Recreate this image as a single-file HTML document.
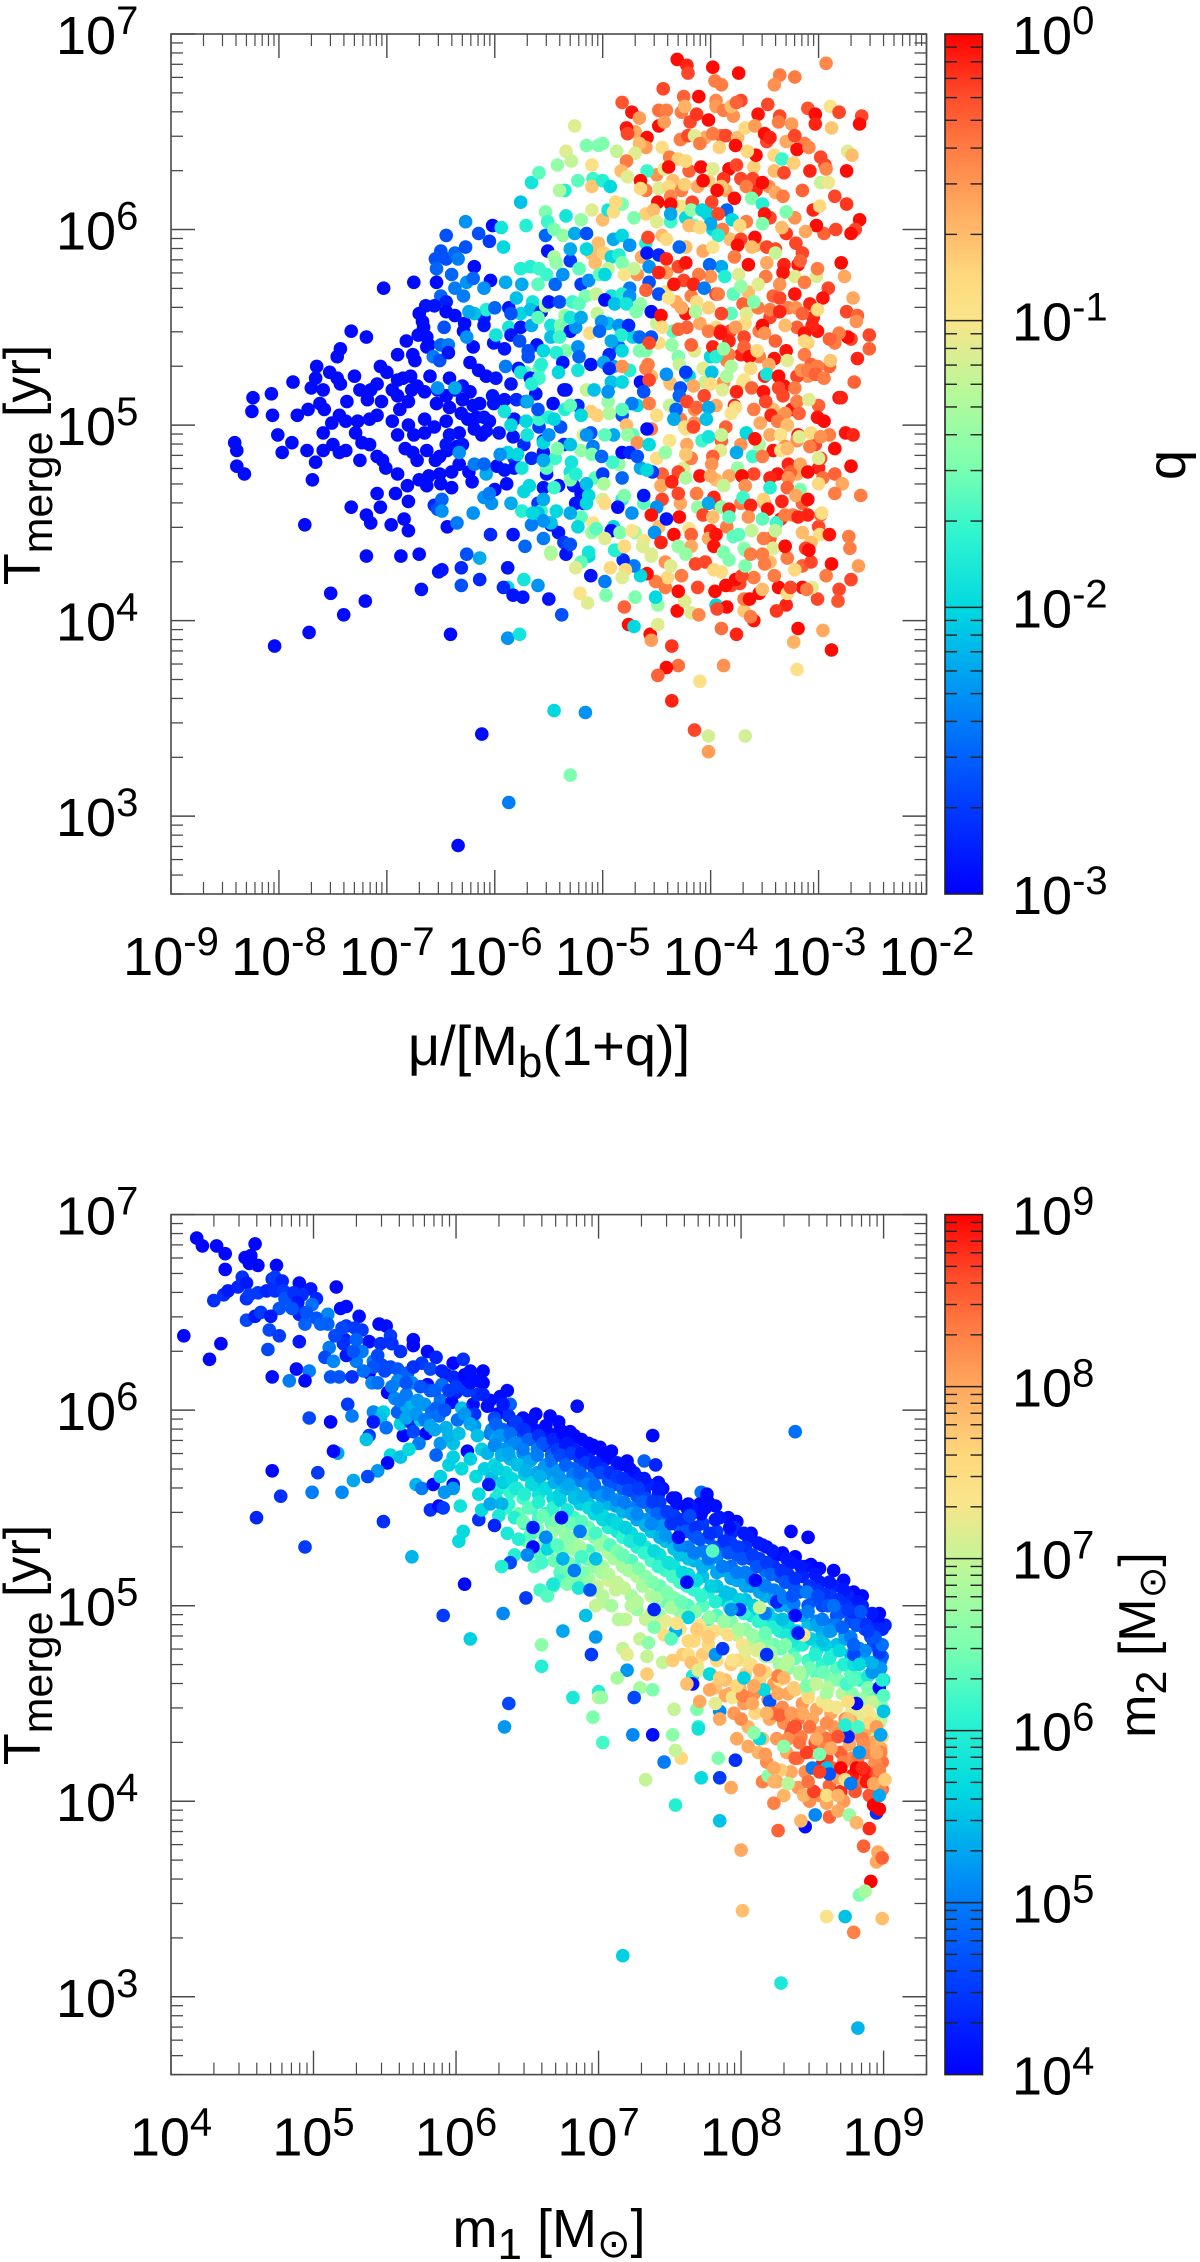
<!DOCTYPE html>
<html lang="en">
<head>
<meta charset="utf-8">
<title>Merger time scatter plots</title>
<style>
html,body{margin:0;padding:0;background:#fff;}
body{width:1200px;height:2262px;overflow:hidden;}
svg{display:block;font-family:"Liberation Sans",Arial,sans-serif;fill:#000;}
</style>
</head>
<body>
<svg id="figure" xmlns="http://www.w3.org/2000/svg" width="1200" height="2262" viewBox="0 0 1200 2262">
  <g id="top-panel"></g>
  <g id="bottom-panel"></g>
  <text x="549" y="1065" font-size="56" text-anchor="middle">μ/[M<tspan dy="12" font-size="44">b</tspan><tspan dy="-12">(1+q)]</tspan></text>
  <text transform="translate(40,465) rotate(-90)" font-size="52" text-anchor="middle">T<tspan dy="12" font-size="43">merge</tspan><tspan dy="-12"> [yr]</tspan></text>
  <text transform="translate(1185,465) rotate(-90)" font-size="54" text-anchor="middle">q</text>
  <text x="549" y="2247" font-size="54" text-anchor="middle">m<tspan dy="12" font-size="44">1</tspan><tspan dy="-12"> [M</tspan><tspan dy="10" font-size="40" font-family="'DejaVu Sans',sans-serif">⊙</tspan><tspan dy="-10">]</tspan></text>
  <text transform="translate(40,1645) rotate(-90)" font-size="52" text-anchor="middle">T<tspan dy="12" font-size="43">merge</tspan><tspan dy="-12"> [yr]</tspan></text>
  <text transform="translate(1155,1645) rotate(-90)" font-size="52" text-anchor="middle">m<tspan dy="11" font-size="43">2</tspan><tspan dy="-11"> [M</tspan><tspan dy="10" font-size="38" font-family="'DejaVu Sans',sans-serif">⊙</tspan><tspan dy="-10">]</tspan></text>
</svg>
<script>
/* ---------- tick labels (log10 exponents) ---------- */
const topXTickExponents = [-9,-8,-7,-6,-5,-4,-3,-2];
const topYTickExponents = [3,4,5,6,7];
const topColorTickExponents = [-3,-2,-1,0];
const bottomXTickExponents = [4,5,6,7,8,9];
const bottomYTickExponents = [3,4,5,6,7];
const bottomColorTickExponents = [4,5,6,7,8,9];

/* ---------- upper panel: log10(mu/[Mb(1+q)]), log10(Tmerge), log10(q) ---------- */
const topLogMu1 = [-8.41,-8.39,-8.39,-8.32,-8.24,-8.25,-8.07,-8.06,-8.01,-7.97,-7.88,-7.74,-7.66,-7.69,-7.76,-7.87,-7.7,-7.65,-7.66,-7.59,-7.62,-7.58,-7.83,-7.73,-7.51,-7.59,-7.59,-7.5,-7.44,-7.38,-7.46,-7.43,-7.53,-7.46,-7.43,-7.33,-7.19,-7.3,-7.37,-7.44,-7.38,-7.27,-7.25,-7.18,-7.16,-7.09,-7.29,-7.23,-7.16,-7.25,-7.09,-7.04,-7.01,-7.09,-6.92,-6.8,-7.33,-7.06,-7.19,-7.15,-6.96,-6.84,-6.8,-6.9,-6.81];
const topLogT1 = [4.91,4.87,4.79,4.75,5.14,5.07,5.16,5.05,4.95,4.86,4.91,4.87,4.81,4.72,4.49,5.22,5.19,5.3,5.24,5.18,5.11,5.08,5.05,5.08,5.01,4.96,4.87,4.9,4.86,4.87,5.35,5.39,5.27,5.24,5.21,5.48,5.45,5.25,5.12,5.05,5.02,5.02,5.18,5.13,5.03,5.05,4.96,4.91,4.9,4.82,4.84,4.82,4.78,4.65,4.65,4.61,4.58,4.58,4.54,4.5,4.49,4.52,4.46,4.75,4.69];
const topLogQ1 = [-2.95,-2.95,-2.95,-2.95,-2.95,-2.95,-2.95,-2.95,-2.95,-2.95,-2.95,-2.95,-2.95,-2.95,-2.95,-2.95,-2.95,-2.95,-2.95,-2.95,-2.95,-2.95,-2.95,-2.95,-2.95,-2.95,-2.95,-2.95,-2.95,-2.95,-2.95,-2.95,-2.95,-2.95,-2.95,-2.95,-2.95,-2.95,-2.95,-2.95,-2.95,-2.95,-2.95,-2.95,-2.95,-2.95,-2.95,-2.95,-2.95,-2.95,-2.95,-2.95,-2.95,-2.95,-2.95,-2.95,-2.95,-2.95,-2.95,-2.95,-2.95,-2.95,-2.95,-2.95,-2.95];

const topLogMu2 = [-7.03,-6.75,-6.54,-6.04,-6.19,-6.4,-6.45,-6.27,-6.15,-6.05,-6.02,-5.94,-5.92,-6.5,-6.55,-6.45,-6.37,-6.27,-6.34,-6.54,-6.37,-6.26,-6.2,-6.29,-6.5,-6.45,-6.56,-6.64,-6.7,-6.67,-6.66,-6.45,-6.37,-6.28,-6.29,-6.47,-6.71,-6.82,-6.63,-6.61,-6.63,-6.9,-6.76,-6.74,-6.2,-6.5,-6.43,-6.57,-6.51,-6.43,-6.23,-6.26,-7.06,-7,-7.09,-6.9,-6.78,-6.77,-6.9];
const topLogT2 = [5.7,5.73,5.73,5.74,5.81,5.77,5.97,6.04,5.98,5.94,6.02,6.01,5.91,5.89,5.85,5.85,5.88,5.91,5.85,5.8,5.7,5.73,5.75,5.66,5.66,5.63,5.61,5.61,5.57,5.53,5.5,5.58,5.56,5.52,5.48,5.5,5.46,5.43,5.45,5.41,5.4,5.36,5.36,5.33,5.4,5.41,5.41,5.35,5.33,5.37,5.32,5.45,5.3,5.27,5.21,5.23,5.25,5.18,5.15];
const topLogQ2 = [-2.95,-2.95,-2.95,-2.95,-2.95,-2.5,-2.6,-2.3,-2.6,-2.7,-2.95,-1.9,-2,-2.6,-2.6,-2.6,-2.5,-2.6,-2.4,-2.5,-2.4,-2.3,-2.5,-2.4,-2.5,-2.85,-2.9,-2.9,-2.95,-2.95,-2.95,-2.95,-2.95,-2.95,-2.95,-2.6,-2.95,-2.95,-2.95,-2.95,-2.95,-2.95,-2.95,-2.95,-2.95,-2.5,-2.4,-2.4,-2.6,-2.9,-2.95,-2.3,-2.95,-2.95,-2.95,-2.95,-2.95,-2.95,-2.95];

const topLogMu3 = [-6.65,-6.53,-6.42,-6.37,-6.23,-6.54,-6.42,-6.3,-6.15,-6.08,-5.99,-6.14,-6.01,-5.91,-5.85,-5.8,-5.71,-5.62,-5.46,-5.36,-5.23,-6.65,-6.56,-6.45,-6.31,-6.17,-6.05,-5.96,-5.82,-5.59,-5.39,-6.33,-6.19,-6.08,-5.83,-5.73,-5.55,-5.36,-6.35,-6.44,-6.51,-6.63,-6.72,-6.83,-6.76,-5.98,-5.91,-5.82,-5.66,-5.55,-6.61,-6.51,-6.4,-6.33,-6.24,-5.82,-6.21,-6.4,-6.63,-6,-5.89,-5.55,-5.6,-5.52,-5.27,-5.2,-5.18,-5.25,-5.41,-5.48,-5.41,-5.83,-6.04,-6.44,-6.56,-6.53];
const topLogT3 = [5.17,5.18,5.24,5.18,5.17,5.11,5.09,5.13,5.28,5.25,5.24,5.11,5.11,5.13,5.21,5.13,5.12,5.16,5.11,5.18,5.1,4.96,4.99,5.02,5.06,5.04,5.02,4.96,5.03,4.99,4.99,4.96,4.98,4.97,4.94,4.9,4.92,4.9,4.89,4.87,4.84,4.87,4.82,4.88,4.86,4.79,4.77,4.83,4.83,4.86,4.74,4.75,4.76,4.8,4.76,4.78,4.71,4.68,4.69,4.67,4.7,4.68,4.6,4.75,4.69,4.65,4.6,4.6,4.69,4.49,4.45,4.44,4.44,4.48,4.59,4.57];
const topLogQ3 = [-2.95,-2.95,-2.95,-2.95,-2.95,-2.95,-2.95,-2.95,-2.95,-2.95,-2.9,-2.95,-2.9,-2.9,-2.9,-2.8,-2.7,-2.9,-2.95,-2.95,-2.8,-2.95,-2.95,-2.95,-2.95,-2.95,-2.95,-2.9,-2.9,-2.7,-2.6,-2.95,-2.95,-2.9,-2.9,-2.8,-2.7,-2.8,-2.95,-2.95,-2.95,-2.95,-2.95,-2.95,-2.95,-2.95,-2.9,-2.7,-2.8,-2.9,-2.95,-2.95,-2.95,-2.95,-2.95,-2.9,-2.95,-2.95,-2.95,-2.95,-2.95,-2.9,-2.7,-2.9,-2.9,-2.95,-2.95,-2.9,-2.95,-2.95,-2.9,-2.9,-2.8,-2.95,-2.8,-2.6];

const topLogMu3b = [-7.05,-6.95,-6.88,-6.8,-6.72,-6.9,-6.8,-6.65,-6.95,-6.75,-6.55,-6.45,-6.7,-6.5,-7.15,-6.85,-6.6,-6.45,-6.3,-6.2,-6.1,-6.02,-6.42,-6.25,-6.3,-6.12];
const topLogT3b = [5.12,5.18,5.08,5.12,5.2,4.95,5,5.03,5.02,4.95,4.82,4.9,4.72,4.7,5.18,5.24,5.25,5.15,5.2,5.1,5.04,5.15,4.95,5.03,4.9,4.95];
const topLogQ3b = [-2.95,-2.95,-2.95,-2.95,-2.95,-2.95,-2.95,-2.95,-2.95,-2.95,-2.95,-2.9,-2.95,-2.95,-2.95,-2.95,-2.95,-2.95,-2.9,-2.95,-2.9,-2.9,-2.9,-2.95,-2.9,-2.95];

const topLogMu4 = [-6.53,-6.37,-5.91,-5.59,-5.5,-5.71,-5.55,-5.45,-5.88,-5.79,-6.33,-6.19,-6.08,-6.1,-6.03,-6.49,-6.49,-5.73,-5.75,-5.57,-5.6,-5.55,-5.48,-5.43,-5.2,-5.55,-5.66,-5.68,-5.29,-5.44,-5.52,-5.3,-5.2,-5.18,-5.11,-5.34,-5.15,-5.08,-5.11,-5.05,-5.09,-5.07,-5.13,-5.09,-5.1,-5.06,-5.23,-5.36,-5.3,-5.48,-5.13];
const topLogT4 = [5.19,5.19,5.07,5.03,5.04,5.02,4.91,5.03,4.86,4.85,4.86,4.8,4.75,4.63,4.6,4.62,4.56,4.66,4.56,4.56,4.55,4.62,4.5,4.56,4.53,4.51,4.49,4.69,4.81,4.83,4.78,4.76,4.87,4.95,4.96,5.18,5.18,5.18,5.07,5.05,4.89,4.73,4.64,4.5,4.45,4.47,4.48,4.4,4.39,4.34,4.33];
const topLogQ4 = [-2.3,-2.2,-1.9,-1.7,-1.8,-2,-2,-2,-2,-2,-2.3,-2.4,-2.2,-2.3,-2.3,-2.5,-2.3,-2,-1.8,-1.7,-2.1,-2.2,-2.1,-2,-1.6,-2.3,-2.4,-2,-1.9,-1.7,-1.6,-1.9,-1.4,-1.1,-2.6,-2.9,-1.2,-2.1,-0.8,-0.8,-2.4,-1.6,-2,-1,-1.4,-1.6,-2,-2.7,-1.2,-1.2,-2];

const topLogMu5 = [-5.76,-5.67,-5.59,-5.52,-5.6,-5.75,-5.44,-5.37,-5.3,-5.22,-5.51,-5.45,-5.43,-5.53,-5.37,-5.26,-5.34,-5.53,-5.51,-5.71,-5.76,-5.66,-5.59,-5.42,-5.34,-5.29,-5.26,-5.23,-5.35,-5.15,-5.04,-5.1,-5.09,-5.1,-5.04,-5.11,-5.07,-5.87,-5.8,-5.65,-5.76,-5.67,-5.57,-5.53,-5.5,-5.4,-5.28,-5.2,-5.13,-5.16,-5.22,-5.06,-5.05,-5.35,-5.48,-5.39,-5.48,-5.3,-5.25,-5.85,-5.87,-5.76,-5.85,-5.77,-5.66,-5.61,-5.69,-6.01,-5.91,-5.99,-6.1,-6.08,-6.1,-6.19,-6.24,-5.34,-5.43,-5.23,-5.22,-5.37,-5.59,-5.57,-5.69,-5.72,-5.78,-5.76,-5.23,-5.41,-5.11,-5.67,-5.59,-5.66];
const topLogT5 = [5.8,5.81,5.8,5.77,5.72,5.72,5.72,5.77,5.84,5.8,5.89,5.86,5.83,5.97,5.97,5.98,6.07,6.09,6.04,6.02,6.14,6.24,6.29,6.33,6.4,6.35,6.53,6.25,6.2,6.43,6.43,6.33,6.26,6.22,5.93,5.88,5.83,5.6,5.65,5.63,5.57,5.59,5.58,5.61,5.63,5.63,5.63,5.72,5.74,5.66,5.62,5.67,5.57,5.56,5.51,5.51,5.45,5.48,5.5,5.57,5.5,5.5,5.46,5.43,5.51,5.41,5.38,5.42,5.39,5.46,5.55,5.59,5.51,5.57,5.58,5.38,5.37,5.4,5.35,5.32,5.29,5.31,5.35,5.27,5.29,5.27,5.28,5.27,5.31,5.24,5.24,5.21];
const topLogQ5 = [-1.8,-1.8,-1.7,-1.7,-1.6,-2.2,-2.5,-2.3,-2.7,-1.6,-2.9,-1.3,-1.4,-2.5,-1.4,-2.2,-1.9,-1.5,-1.7,-1.8,-2.1,-1.9,-1.6,-1.4,-1.1,-1.2,-1.1,-1.6,-1.8,-1.5,-1.5,-0.95,-1.7,-0.75,-0.7,-0.7,-0.7,-2.9,-2.1,-1.9,-2,-2.1,-2.9,-1.3,-2.9,-2.6,-1.7,-2.7,-2.3,-1.5,-1.6,-1.2,-1.2,-1.4,-1.9,-1.5,-2.1,-2.9,-2.3,-2.6,-1.9,-2.9,-2.9,-2.6,-2.2,-2.9,-2.6,-2.9,-2.9,-1.9,-2.9,-1.8,-2.9,-2.1,-2.2,-1.5,-1.8,-2.3,-2.5,-2.9,-1.6,-1.8,-2.6,-1.6,-2.9,-1.9,-1.9,-2,-2.9,-2.9,-1.7,-1.8];

const topLogMu5b = [-5.9,-5.7,-5.85,-5.6,-5.7,-5.5,-5.35,-5.42,-5.3,-5.55,-5.75,-5.95,-6.1,-5.85,-5.65,-5.45,-5.3,-5.3,-5.55,-5.72,-5.15,-6.35,-6.2,-6.05,-5.4,-5.55,-5.3,-5.6,-5.9,-6,-6.1,-5.45,-5.2,-5.1,-5.3,-5.15,-5,-5.4,-5];
const topLogT5b = [5.3,5.12,5,5.08,4.95,4.95,5.08,4.88,4.9,4.82,4.78,4.85,4.8,4.6,4.55,4.68,4.72,4.55,4.42,4.38,4.7,4.5,4.55,4.65,5.45,5.38,5.55,5.55,5.73,5.6,5.7,6,6.05,6.1,5.9,5.98,6.05,6.2,6.25];
const topLogQ5b = [-2.4,-2.2,-2,-2.6,-1.9,-2.3,-1.8,-1.5,-2.1,-2.2,-1.9,-2.3,-2.5,-2.2,-2,-1.7,-1.5,-2.2,-2.4,-2.5,-2.1,-2.4,-2.3,-2.4,-1.7,-2,-1.9,-1.6,-2.2,-2.5,-2.3,-1.5,-1.4,-1.1,-2.2,-2.6,-0.7,-1.3,-1.8];

const topLogMu6 = [-4.31,-4.22,-4.21,-3.98,-3.74,-3.96,-3.9,-4.44,-4.25,-4.11,-3.95,-3.36,-3.22,-3.41,-2.93,-4.82,-4.73,-4.66,-4.78,-4.77,-4.48,-4.48,-4.41,-4.43,-4.59,-4.6,-4.27,-4.24,-4.19,-4.13,-4.02,-3.95,-3.88,-3.79,-3.81,-3.72,-3.76,-3.56,-3.47,-3.36,-3.37,-3.25,-3.1,-3.03,-3.03,-2.89,-2.81,-2.88,-2.6,-2.62,-4.21,-4.15,-3.98,-3.86,-3.75,-3.68,-3.59,-3.5,-3.45,-3.22,-4.1,-3.92,-3.77,-4.66,-4.7,-5];
const topLogT6 = [6.87,6.84,6.8,6.83,6.8,6.76,6.74,6.72,6.68,6.68,6.66,6.79,6.78,6.74,6.85,6.65,6.6,6.57,6.52,6.49,6.53,6.61,6.61,6.55,6.47,6.42,6.6,6.63,6.55,6.59,6.56,6.63,6.61,6.58,6.63,6.66,6.65,6.59,6.64,6.58,6.55,6.54,6.62,6.59,6.54,6.63,6.6,6.52,6.58,6.54,6.48,6.48,6.49,6.48,6.47,6.52,6.53,6.49,6.47,6.48,6.44,6.42,6.43,6.44,6.39,6.44];
const topLogQ6 = [-0.03,-0.1,-0.2,-0.03,-0.03,-0.4,-0.4,-0.2,-0.3,-0.03,-0.45,-0.4,-0.4,-0.5,-0.45,-0.25,-0.05,-0.55,-0.05,-0.2,-0.03,-0.35,-0.4,-0.55,-0.03,-0.55,-0.4,-0.65,-0.2,-0.15,-0.03,-0.55,-0.4,-0.5,-0.7,-0.2,-0.3,-0.05,-0.2,-0.2,-0.4,-0.55,-0.25,-0.03,-0.1,-1,-0.2,-0.75,-0.2,-0.03,-0.2,-1.1,-0.4,-0.2,-0.7,-0.85,-0.55,-0.03,-0.1,-0.2,-0.4,-0.8,-0.03,-0.7,-1.1,-1.5];

const topLogMu7 = [-3.2,-3.09,-3.58,-3.66,-3.41,-3.34,-3.23,-2.98,-2.94,-2.93,-2.73,-2.69,-2.74,-4.78,-4.59,-4.83,-4.77,-4.65,-4.43,-4.38,-4.3,-4.23,-4.39,-4.09,-3.98,-3.83,-3.76,-4.07,-3.88,-3.61,-3.52,-3.41,-3.32,-3.67,-3.9,-3.94,-3.78,-3.62,-3.4,-3.33,-2.98,-2.91,-2.85,-2.74,-2.99,-3.3,-3.52,-3.5,-2.62,-2.66,-2.7,-3.02,-2.84,-3.12,-3.34,-3.21,-3.52,-4.93,-4.65,-4.48,-4.39,-4.27,-4.24,-4.37,-4.49,-4.37,-4.17,-3.99,-4.53,-4.71,-4.9,-4.82,-4.88];
const topLogT7 = [6.41,6.42,6.38,6.4,6.38,6.36,6.34,6.37,6.33,6.31,6.4,6.38,6.3,6.35,6.3,6.3,6.27,6.25,6.31,6.37,6.36,6.35,6.32,6.32,6.31,6.31,6.33,6.25,6.26,6.26,6.24,6.3,6.29,6.22,6.22,6.2,6.16,6.16,6.19,6.17,6.24,6.24,6.17,6.13,6.12,6.09,6.13,6.08,6.05,6,5.98,6.02,6,5.99,6.01,5.93,6.03,6.22,6.21,6.21,6.22,6.2,6.23,6.17,6.14,6.13,6.14,6.14,6.1,6.06,6.09,6.13,6.14];
const topLogQ7 = [-0.03,-0.45,-0.03,-0.85,-0.85,-1.7,-0.8,-0.2,-0.2,-0.45,-1.1,-0.7,-0.03,-0.4,-1.7,-0.7,-1.1,-0.03,-1.1,-0.4,-0.8,-0.85,-0.03,-0.03,-1.1,-0.03,-0.2,-0.03,-0.15,-0.2,-0.03,-0.7,-0.2,-0.4,-0.75,-0.03,-0.03,-1.5,-0.6,-0.4,-1.2,-1.05,-0.2,-0.15,-0.85,-1.5,-1.8,-0.05,-0.03,-0.2,-0.03,-0.03,-0.2,-0.6,-0.7,-0.2,-1.5,-2,-0.85,-1.1,-0.85,-0.4,-0.8,-0.45,-0.03,-0.03,-0.2,-0.2,-0.7,-1.5,-0.9,-1.5,-0.85];

const topLogMu8 = [-4.5,-4.37,-4.37,-4.23,-4.18,-4.08,-4.03,-3.85,-3.93,-4,-3.8,-4.2,-4.1,-3.89,-3.73,-4.41,-4.58,-4.82,-4.75,-3.93,-3.72,-3.59,-3.75,-3.62,-3.48,-3.4,-4.99,-4.92,-4.85,-4.82,-4.64,-4.59,-4.48,-4.57,-4.41,-4.3,-4.23,-4.23,-4.29,-4.07,-3.98,-3.9,-4.01,-3.78,-3.65,-3.48,-3.4,-3.32,-3.19,-3.17,-2.79,-3.22,-3.02,-3.01,-2.76,-3.33,-3.49,-4,-3.87,-3.74,-4.11,-4.41,-4.48,-4.57,-4.25,-4.16,-4.68,-4.8,-4.95,-5.03,-4.98,-4.71];
const topLogT8 = [6.04,6.04,6.08,6.06,6.1,6.1,6.08,6.1,6.08,6.03,6.05,6.02,6.01,6,6.02,5.95,5.96,5.97,5.92,5.97,5.95,5.96,5.92,5.91,5.91,5.9,5.88,5.86,5.87,5.83,5.86,5.88,5.87,5.81,5.85,5.81,5.83,5.91,5.91,5.89,5.91,5.81,5.82,5.86,5.82,5.83,5.88,5.82,5.82,5.84,5.83,5.76,5.76,5.8,5.76,5.78,5.76,5.76,5.76,5.77,5.77,5.78,5.78,5.73,5.74,5.72,5.77,5.77,5.8,5.77,5.77,5.8];
const topLogQ8 = [-1.1,-1.7,-2.2,-2,-1.4,-2,-2,-2.5,-0.2,-2.2,-2,-0.7,-0.85,-0.4,-0.85,-0.85,-0.2,-2,-2.3,-1.8,-0.2,-0.03,-0.03,-0.7,-0.2,-0.2,-0.8,-2,-1.8,-1.5,-0.6,-2.9,-2.8,-2.3,-0.1,-0.2,-0.05,-0.7,-2.5,-0.6,-1,-2.2,-2.5,-0.4,-0.03,-0.6,-1.2,-0.1,-0.05,-0.3,-0.03,-1.1,-1.1,-0.4,-0.6,-0.05,-0.4,-0.5,-1.8,-1.1,-0.4,-0.55,-0.1,-2.6,-0.2,-0.1,-0.5,-1,-1.2,-1.6,-2,-1.2];

const topLogMu9 = [-4.82,-4.75,-4.6,-4.48,-4.34,-4.06,-3.93,-3.79,-3.72,-3.56,-3.36,-3.13,-2.91,-2.96,-2.68,-3.36,-3.81,-3.9,-4.98,-4.89,-4.78,-4.69,-4.55,-4.46,-4.23,-4.27,-4.13,-4.02,-4.14,-3.67,-3.56,-3.45,-3.28,-3.21,-3.36,-3.08,-3.15,-3.01,-2.74,-2.64,-3.6,-4.85,-4.76,-4.39,-5.01];
const topLogT9 = [5.67,5.66,5.69,5.67,5.72,5.7,5.67,5.67,5.71,5.72,5.72,5.73,5.7,5.65,5.65,5.65,5.57,5.57,5.64,5.62,5.62,5.58,5.58,5.56,5.57,5.6,5.63,5.6,5.58,5.57,5.6,5.59,5.6,5.6,5.58,5.62,5.57,5.59,5.58,5.56,5.63,5.51,5.51,5.65,5.53];
const topLogQ9 = [-1.8,-2.3,-0.3,-2.6,-0.05,-2.4,-0.4,-1.6,-1.4,-1.1,-0.5,-0.4,-0.2,-0.05,-0.6,-0.2,-1.6,-0.2,-2.95,-2.1,-1.9,-1.5,-2.95,-0.03,-0.05,-0.6,-0.9,-0.8,-1.3,-1.1,-0.4,-0.4,-0.4,-0.5,-0.1,-0.1,-0.3,-0.9,-0.2,-0.3,-1.5,-2.3,-2.8,-1,-2.3];

const topLogMu10 = [-3.52,-3.31,-3.68,-3.77,-3.91,-4.02,-4.3,-4.45,-4.55,-4.66,-4.83,-4.92,-5.03,-2.65,-2.53,-2.53,-2.73,-2.81,-2.9,-3.01,-3.06,-3.13,-3.13,-3.5,-3.4,-3.69,-3.83,-3.91,-3.98,-4.18,-4.36,-4.57,-4.66,-4.82,-4.94,-4.99,-3.69,-3.64,-3.83,-3.95,-3.88,-3.57,-3.13,-2.89,-2.64,-3.41,-3.29,-3.46,-3.63,-3.81,-3.07,-3.01,-4.07,-4.29,-4.58,-4.6,-4.82,-4.94,-4.23];
const topLogT10 = [5.51,5.51,5.52,5.5,5.48,5.48,5.49,5.5,5.45,5.45,5.46,5.43,5.48,5.53,5.46,5.39,5.45,5.47,5.44,5.48,5.51,5.47,5.43,5.47,5.43,5.45,5.43,5.47,5.4,5.41,5.41,5.42,5.38,5.38,5.36,5.32,5.4,5.35,5.36,5.35,5.39,5.38,5.36,5.33,5.34,5.34,5.33,5.31,5.29,5.3,5.31,5.3,5.29,5.31,5.31,5.29,5.3,5.29,5.27];
const topLogQ10 = [-0.03,-0.7,-0.9,-0.55,-0.1,-0.4,-0.3,-0.9,-2.6,-2.5,-1.8,-2.2,-2.5,-0.5,-0.2,-0.3,-0.03,-0.4,-0.3,-0.05,-0.1,-0.05,-0.85,-0.5,-0.3,-0.2,-0.1,-0.05,-0.1,-0.3,-1.4,-0.2,-1.5,-2,-2.8,-2.2,-0.3,-0.03,-0.4,-1.8,-1.4,-0.85,-0.4,-0.75,-0.1,-0.05,-1.1,-0.6,-0.85,-1.3,-0.3,-0.4,-1.1,-1.2,-0.4,-0.4,-0.5,-2.8,-2.7];

const topLogMu11 = [-3.99,-3.85,-3.69,-3.48,-3.37,-3.2,-3.16,-3.1,-3.03,-2.95,-2.67,-4.65,-4.92,-4.82,-4.57,-4.37,-4.16,-4,-3.89,-4.28,-4.41,-3.37,-3.22,-4.95,-4.62,-4.29,-4.06,-3.76,-3.62,-3.51,-3.33,-3.2,-3.09,-2.81,-2.79,-4.57,-4.73,-4.82,-4.94,-4.32,-4.22,-4.13,-4.02,-3.77,-3.81,-3.49,-3.44,-3.31,-3.18,-3.01,-2.95,-4.34,-4.15,-4.04,-3.86,-3.54,-3.38,-3.29,-3.19,-2.75,-2.68,-4.78,-4.59,-4.77,-4.68,-4.02,-4.23,-3.9,-3.67,-3.59,-3.45,-3.35,-3.18,-3.07,-2.98,-4.98,-4.24,-4.16];
const topLogT11 = [5.27,5.25,5.23,5.26,5.25,5.25,5.28,5.28,5.26,5.24,5.22,5.22,5.22,5.22,5.23,5.21,5.2,5.21,5.18,5.19,5.26,5.19,5.19,5.17,5.17,5.15,5.15,5.17,5.19,5.17,5.15,5.12,5.13,5.14,5.14,5.11,5.11,5.08,5.06,5.08,5.12,5.09,5.09,5.09,5.06,5.12,5.05,5.06,5.06,5.04,5.02,5.03,5.01,5.03,4.99,5.01,5.02,5,4.95,4.96,4.95,5,4.98,4.95,4.91,4.94,4.98,4.95,4.96,4.93,4.95,4.95,4.94,4.96,4.94,4.95,4.99,4.99];
const topLogQ11 = [-2.1,-1.3,-1,-1.9,-0.03,-0.2,-0.5,-0.4,-0.3,-0.4,-0.3,-2.95,-2.1,-2,-0.2,-0.7,-0.6,-0.9,-1.1,-2.6,-2.3,-0.2,-0.4,-2.3,-2.6,-2.5,-0.2,-0.1,-0.3,-0.05,-0.2,-0.4,-1.1,-0.05,-0.1,-0.4,-2.4,-1.6,-1.3,-2.5,-0.2,-0.3,-2.2,-0.9,-1,-0.2,-0.1,-0.5,-0.3,-0.05,-0.03,-2.2,-0.5,-2.1,-0.3,-0.6,-0.4,-0.7,-0.05,-0.05,-0.1,-0.7,-2.95,-1.4,-0.5,-1.9,-0.9,-1.2,-2,-0.05,-0.6,-1,-1.1,-0.9,-0.5,-1.6,-0.9,-0.2];

const topLogMu12 = [-4.82,-4.75,-4.68,-4.91,-5.01,-4.5,-4.42,-4.57,-3.91,-3.76,-3.61,-3.52,-4.18,-4.23,-3.98,-3.99,-3.31,-3.08,-2.98,-2.85,-3.35,-3.29,-3,-3.28,-2.7,-3.26,-3.17,-3.1,-2.96,-4.54,-4.59,-4.3,-4.23,-4.82,-4.99,-4.46,-4.36,-4,-3.83,-3.71,-3.68,-3.88,-3.45,-3.45,-3.28,-3.29,-3.17,-3,-2.78,-2.85,-2.61,-4.62,-4.8,-4.98,-4.3,-4.13,-3.97,-3.7,-3.51,-3.21,-3.34];
const topLogT12 = [4.86,4.86,4.84,4.81,4.84,4.83,4.86,4.9,4.87,4.86,4.84,4.84,4.83,4.85,4.84,4.8,4.89,4.89,4.83,4.88,4.87,4.88,4.83,4.8,4.79,4.76,4.8,4.76,4.73,4.76,4.77,4.76,4.73,4.73,4.7,4.69,4.71,4.74,4.74,4.74,4.69,4.69,4.73,4.68,4.73,4.68,4.67,4.7,4.7,4.65,4.64,4.64,4.64,4.6,4.65,4.65,4.63,4.63,4.62,4.64,4.61];
const topLogQ12 = [-2.95,-2.8,-2.6,-1.7,-2.5,-0.9,-1.4,-2,-1.1,-2.2,-1.7,-0.4,-0.4,-0.75,-0.3,-0.5,-0.5,-0.4,-0.2,-0.03,-1,-0.7,-1.1,-0.1,-0.03,-0.3,-0.6,-0.03,-0.35,-2.7,-2,-0.2,-1.3,-2.5,-1.3,-0.6,-0.1,-0.6,-0.6,-0.03,-0.5,-1.2,-0.1,-1.8,-0.5,-0.3,-1.5,-0.85,-0.6,-0.4,-0.4,-2.9,-1.5,-0.9,-0.2,-0.4,-0.1,-1.7,-0.8,-0.6,-0.1];

const topLogMu13 = [-4.86,-4.73,-4.5,-4.29,-4.02,-3.9,-3.63,-3.47,-4.41,-4.55,-4.07,-3.98,-3.83,-3.83,-3.65,-3.52,-3.39,-3.31,-3.24,-3.19,-3.1,-3.1,-2.98,-2.97,-4.92,-4.84,-4.73,-4.52,-4.34,-4.18,-4.02,-3.95,-3.79,-3.74,-3.51,-3.4,-3.15,-2.99,-2.9,-3.07,-4.62,-4.46,-4.3,-4.18,-3.97,-3.69,-3.31,-3.12,-2.72,-4.89,-4.8,-4.98];
const topLogT13 = [4.58,4.55,4.58,4.53,4.6,4.58,4.59,4.57,4.52,4.54,4.54,4.53,4.57,4.53,4.53,4.52,4.5,4.54,4.54,4.53,4.62,4.54,4.54,4.55,4.46,4.45,4.46,4.45,4.44,4.44,4.42,4.44,4.43,4.44,4.42,4.46,4.45,4.44,4.44,4.4,4.41,4.4,4.38,4.38,4.38,4.37,4.38,4.37,4.43,4.36,4.38,4.42];
const topLogQ13 = [-2.95,-2.3,-2.3,-0.03,-2.2,-1.4,-0.1,-0.03,-2.9,-0.05,-0.2,-0.7,-0.1,-1.6,-0.5,-1.6,-1.7,-0.4,-0.4,-0.1,-0.03,-0.1,-0.3,-0.9,-2.95,-1.5,-1,-2.3,-0.03,-0.3,-0.6,-0.05,-1.6,-1.6,-0.4,-1.2,-0.7,-0.9,-0.05,-0.7,-1,-0.1,-1.3,-0.6,-0.05,-1.4,-0.03,-0.2,-0.4,-1.8,-0.8,-1.1];

const topLogMu16 = [-4.6,-4.5,-4.35,-4.2,-4.12,-4.02,-3.86,-3.72,-3.58,-3.46,-3.6,-3.15,-3.08,-3.13,-3.3,-3.48,-3.9,-4.05,-4.28,-4.45,-4.7,-4.87,-4.95,-4.6,-4.28,-4.15,-3.98,-3.67,-3.45,-3.22,-3.05,-2.95,-3.3,-3.58,-3.82,-4.6,-4.9,-4.45,-3.15];
const topLogT16 = [6.2,6.28,6.25,6.3,6.22,6.25,6.2,6.26,6.2,6.22,6.32,6.2,6.3,6.44,6.45,6.45,6.48,6.47,6.46,6.42,6.5,6.4,6.1,6.08,6.12,6.02,6,6.04,6.06,6.06,6.1,5.98,5.98,5.92,5.95,5.93,5.95,5.97,5.88];
const topLogQ16 = [-0.4,-0.5,-0.7,-0.3,-0.6,-0.8,-0.6,-0.2,-0.1,-0.5,-0.8,-0.3,-0.1,-0.4,-0.6,-0.2,-0.3,-0.6,-0.4,-0.9,-0.6,-1.2,-1.9,-0.8,-1,-1.5,-2,-0.4,-0.2,-0.5,-0.1,-0.3,-0.15,-0.6,-0.7,-1.8,-2.2,-0.7,-0.2];

const topLogMu17 = [-5.15,-5.2,-5.12,-4.95,-4.92,-4.75,-4.65,-4.5,-4.35,-4.22,-4.1,-3.95,-3.82,-3.7,-3.55,-3.45,-3.2,-3.05,-4.42,-4.32,-4.18,-3.95,-3.65,-3.42,-3.22,-4.85,-4.72,-4.6,-4.48,-4.3,-4.15,-4,-3.85,-3.72,-3.55,-3.3,-3.1,-2.85,-2.7,-4.9,-4.75,-4.55,-4.38,-4.2,-4.05,-3.88,-3.7,-3.5,-3.32,-3.1,-2.9];
const topLogT17 = [5.9,5.55,5.47,5.52,5.66,5.7,5.62,5.52,5.48,5.5,5.52,5.5,5.48,5.62,5.48,5.55,5.5,5.55,5.68,5.63,5.66,5.67,5.68,5.66,5.67,5.4,5.45,5.38,5.42,5.35,5.38,5.35,5.33,5.36,5.35,5.38,5.42,5.42,5.44,5.3,5.28,5.25,5.22,5.25,5.22,5.22,5.22,5.25,5.2,5.25,5.3];
const topLogQ17 = [-2,-2.2,-0.9,-2.1,-1.9,-2.4,-1.4,-1.2,-1.6,-0.3,-0.6,-0.9,-0.2,-0.3,-0.4,-0.2,-0.3,-0.1,-0.9,-0.6,-0.4,-0.2,-0.7,-0.3,-0.05,-2.5,-2,-1.5,-0.9,-1.5,-1.1,-2,-0.4,-0.1,-0.4,-0.05,-0.8,-0.4,-0.2,-2.2,-1.8,-0.7,-0.8,-2,-1.2,-0.5,-0.9,-0.1,-0.05,-0.5,-0.3];

const topLogMu18 = [-5.3,-5.2,-5.15,-5.1,-4.95,-4.82,-4.68,-4.5,-4.38,-4.28,-4.15,-3.95,-3.78,-3.6,-3.42,-3.25,-3,-4.9,-4.72,-4.55,-4.38,-4.22,-4.08,-3.9,-3.72,-3.55,-3.42,-3.2,-3.03,-2.9,-5.25,-5,-4.85,-4.65,-4.45,-4.25,-4.1,-3.95,-3.75,-3.6,-3.38,-3.2,-3,-2.85];
const topLogT18 = [5.1,5.05,4.95,4.85,5.12,5.05,5.1,5.05,5.1,5.03,5.08,5.1,5.1,5.08,5.08,5.08,5.1,4.95,4.95,4.98,4.92,4.9,4.92,4.92,4.9,4.9,4.87,4.92,4.9,4.95,4.75,4.75,4.8,4.78,4.75,4.78,4.74,4.72,4.78,4.75,4.75,4.75,4.78,4.75];
const topLogQ18 = [-1.6,-2,-2.3,-1.5,-1.4,-2.6,-2,-0.9,-1.2,-0.4,-0.5,-0.6,-0.1,-0.4,-0.7,-0.05,-0.3,-2.2,-1.6,-0.4,-1,-0.6,-1.7,-0.3,-0.5,-1.3,-0.05,-0.5,-0.2,-0.4,-1.8,-2.7,-1.4,-2.2,-0.3,-1.1,-0.05,-0.7,-1.4,-0.2,-0.05,-0.6,-0.1,-0.3];

const topLogMu19 = [-5.15,-5,-4.82,-4.62,-4.45,-4.28,-4.12,-3.95,-3.72,-3.5,-3.35,-3.15,-3,-4.9,-4.7,-4.48,-4.2,-4,-3.85,-3.62,-3.45,-4.55,-4.42,-4.05,-3.9,-3.6,-3.45,-3.15];
const topLogT19 = [4.6,4.62,4.62,4.6,4.62,4.6,4.58,4.6,4.6,4.6,4.52,4.6,4.48,4.48,4.45,4.48,4.47,4.46,4.48,4.46,4.42,4.33,4.3,4.3,4.25,4.22,4.3,4.28];
const topLogQ19 = [-2,-1.1,-1.8,-1.6,-0.2,-0.6,-1.4,-0.3,-0.4,-0.6,-0.1,-0.3,-0.2,-2,-1.4,-0.7,-1,-0.1,-0.4,-1.2,-0.3,-1.2,-0.5,-0.2,-0.9,-0.4,-0.7,-0.3];

const topLogMu14 = [-2.88,-2.63,-2.93,-2.7,-2.81,-2.82,-3.01,-3.15,-3.3,-3.39,-3.19,-2.96,-3.23,-2.88,-3.6,-3.76,-3.9,-3.2,-3.88,-4.3,-4.41,-4.49,-4.1,-4.36,-4.15,-4.02,-3.68,-4.02,-4.36,-4.56,-4.55,-4.76,-4.71,-4.49,-4.8,-4.7,-4.97,-4.49,-4.51,-3.95,-4.31,-4.18,-4.11,-3.69,-3.63,-3.85,-3.94,-4.24,-3.69,-3.64,-3.55,-3.52,-3.37,-3.29,-3.26,-3.06,-3.11,-3.96,-4.12,-4.3,-4.42,-3.81,-3.86,-3.73,-3.77,-3.71,-4.27,-4.4,-4.51,-4.59,-4.65,-4.71,-4.81,-4.79,-4.82,-4.93,-4.98,-4.88,-4.8,-4.63,-4.55,-4.3,-4.23,-4.14,-4.37,-3.97,-3.88,-3.83,-3.68,-3.68,-3.5,-3.41,-3.22,-3.07,-3.29,-3.42,-3.31,-3.09,-2.71,-3.52,-3.63];
const topLogT14 = [4.29,4.28,4.23,4.21,4.16,4.1,4.11,4.17,4.08,4.05,3.96,3.95,3.89,3.85,4,3.93,3.96,3.75,3.77,3.77,3.76,3.72,3.69,3.59,3.44,3.41,3.41,3.33,3.87,3.93,3.9,3.98,3.97,3.98,4.07,4.12,4.13,4.08,4.12,4.08,4.05,4.04,4.03,4.05,4.02,4.07,4.06,4.1,4.11,4.11,4.14,4.16,4.17,4.14,4.17,4.17,4.16,4.15,4.17,4.15,4.17,4.18,4.18,4.19,4.21,4.23,4.23,4.22,4.2,4.24,4.23,4.28,4.31,4.26,4.22,4.27,4.2,4.36,4.38,4.38,4.34,4.38,4.34,4.29,4.28,4.26,4.35,4.31,4.36,4.28,4.29,4.23,4.26,4.3,4.32,4.37,4.38,4.36,4.37,4.34,4.34];
const topLogQ14 = [-0.03,-0.55,-0.4,-0.2,-0.2,-0.25,-0.2,-0.03,-0.1,-0.15,-0.03,-0.6,-0.65,-0.03,-0.05,-0.1,-0.35,-0.95,-0.5,-0.35,-0.03,-0.3,-0.95,-0.1,-0.2,-1.15,-1.15,-0.55,-0.15,-0.03,-0.55,-0.03,-2,-1.1,-0.3,-1.5,-1.5,-1.4,-2,-2,-0.03,-1.1,-0.45,-0.75,-0.4,-0.03,-0.2,-1.1,-0.4,-0.03,-0.03,-0.7,-0.03,-0.9,-0.2,-1.1,-0.4,-0.03,-0.2,-0.03,-0.4,-0.2,-0.03,-0.2,-0.03,-0.2,-0.4,-0.85,-0.4,-0.03,-2,-2.4,-2.8,-0.85,-1.1,-0.85,-2.4,-1.8,-0.85,-1.1,-1.1,-1.4,-1.4,-0.2,-1.1,-0.85,-1.5,-1.5,-1.5,-1.5,-0.4,-0.4,-0.85,-0.2,-0.4,-1.1,-0.03,-0.03,-0.4,-0.4,-0.4];

const topLogMu15 = [-5.48,-5.34,-5.3,-5.13,-5.2,-5.25,-5.11,-5.21,-5.14,-5.38,-5.5,-5.6,-5.73,-5.88,-5.92,-5.83,-5.74,-5.88,-6.14,-6.31,-6.68,-6.31,-6.49,-6.52,-6.26,-6.14,-6.7,-6.87,-7.19,-7.52,-7.2,-7.4,-7.72,-8.04,-6.41,-5.88,-5.77,-6.12,-5.45,-5.16,-5.3,-5.87,-6.34];
const topLogT15 = [4.35,4.34,4.39,4.35,4.3,4.27,4.23,4.14,4.09,4.03,4.11,4.18,4.21,4.17,4.17,4.13,4.12,4.27,4.21,4.18,4.16,4.27,4.26,4.25,4.34,4.32,4.34,4.33,4.33,4.14,4.1,4.03,3.94,3.87,3.93,3.91,3.93,3.42,3.54,3.53,3.21,3.07,2.85];
const topLogQ15 = [-1.3,-2.9,-2.6,-1.9,-1.6,-1.1,-2.9,-1,-1.1,-2.6,-2.9,-2.3,-1.9,-2,-2.8,-2.9,-2.9,-2.9,-2.8,-2.6,-2.9,-2.8,-2.9,-2.9,-2.6,-2.2,-2.95,-2.95,-2.95,-2.95,-2.95,-2.95,-2.95,-2.95,-2.95,-2.3,-1.9,-2.95,-2,-2.3,-1.5,-2.4,-2.95];

/* ---------- lower panel: log10(m1), log10(Tmerge), log10(m2) ---------- */
const bottomLogM1a = [4.09,4.18,4.22,4.32,4.38,4.38,4.59,4.52,4.56,4.55,4.61,4.74,4.3,4.35,4.27,4.37,4.4,4.47,4.5,4.53,4.53,4.55,4.61,4.67,4.71,4.73,4.78,4.73,4.79,4.8,4.76,4.9,4.98,4.86,4.92,5.02,4.89,4.99,4.53,4.59,4.63,4.7,4.9,5.1,5.1,5.02,4.94,4.69,4.76,4.9,4.68,5.16,5.19,5.23,5.32];
const bottomLogT1a = [6.38,6.88,6.84,6.84,6.8,6.72,6.85,6.78,6.79,6.75,6.74,6.74,6.56,6.34,6.26,6.59,6.61,6.63,6.68,6.65,6.57,6.59,6.6,6.61,6.67,6.68,6.66,6.61,6.61,6.57,6.52,6.65,6.62,6.6,6.59,6.57,6.55,6.54,6.46,6.48,6.5,6.48,6.49,6.49,6.44,6.47,6.44,6.41,6.38,6.35,6.31,6.63,6.52,6.53,6.48];
const bottomLogM2a = [4.05,4.05,4.05,4.05,4.05,4.05,4.05,4.05,4.05,4.05,4.05,4.05,4.4,4.05,4.05,4.4,4.2,4.3,4.4,4.2,4.4,4.5,4.5,4.3,4.4,4.5,4.3,4.4,4.5,4.7,4.7,4.1,4.2,4.4,4.4,4.3,4.2,4.9,4.6,4.2,4.5,4.2,4.3,5.1,4.8,4.7,4.8,4.6,4.5,4.2,4.6,4.05,4.1,4.1,4.1];

const bottomLogM1b = [5.23,5.29,5.34,5.46,5.51,5.54,5.22,5.39,5.47,5.55,5.61,5.7,5.7,5.8,5.86,5.98,6.05,5.11,5.08,5.14,5.34,5.3,5.23,5.21,5.42,5.48,5.54,5.59,5.66,5.76,5.82,5.93,5.98,6.06,6.19,6.19,6.05,6,5.9,5.8,5.82,5.69,5.59,4.71,4.88,4.97,4.94,4.83,5.12,5.18,5.27,5.39,5.41,5.45,5.52];
const bottomLogT1b = [6.43,6.42,6.41,6.44,6.43,6.38,6.36,6.35,6.34,6.34,6.3,6.36,6.33,6.3,6.27,6.24,6.26,6.32,6.27,6.25,6.3,6.25,6.28,6.34,6.25,6.23,6.22,6.21,6.19,6.24,6.21,6.18,6.17,6.18,6.2,6.14,6.13,6.09,6.13,6.13,6.1,6.14,6.15,6.17,6.21,6.2,6.15,6.15,6.17,6.17,6.17,6.19,6.14,6.14,6.09];
const bottomLogM2b = [4.5,4.5,4.5,4.05,4.1,4.5,4.3,4.1,4.4,4.4,4.4,4.1,4.05,4.05,4.3,4.05,4.4,5,4.6,5.1,5,5,4.2,4.4,5,4.6,4.6,4.7,4.8,4.5,4.6,4.05,4.3,4.05,4.05,4.05,4.05,4.3,4.9,4.1,4.7,5.1,5.1,4.1,4.1,5,4.05,5,4.7,4.7,4.4,4.05,5.1,4.9,4.05];

const bottomLogM1c = [5.24,4.97,5.12,5.27,5.42,5.49,5.47,5.42,5.51,5.39,5.37,5.17,5.14,5.63,5.61,5.68,5.7,5.75,5.79,5.74,5.59,5.65,5.7,5.57,5.65,5.73,5.78,5.83,5.89,5.97,6.04,5.86,5.93,6.01,5.85,5.89,5.98,6.08,5.86,5.98,6.13,6.24,6.29,6.12,6.13,6.31,6.36,6.38,6.24,6.15,6.19];
const bottomLogT1c = [6.03,5.96,5.94,5.97,5.99,5.99,5.96,5.94,5.91,5.87,5.85,5.78,5.79,5.87,5.93,5.94,5.89,5.95,5.88,5.83,5.99,6.02,6.03,6.06,6.08,6.05,6.03,5.99,6.05,6.04,6.01,6.01,5.91,5.95,5.9,5.83,5.83,5.79,5.77,5.76,5.92,5.88,5.98,6.03,5.98,6.07,6.1,6.03,6.05,6.08,6.08];
const bottomLogM2c = [4.5,4.6,4.05,5,5.1,5.6,5.5,4.2,4.9,4.5,5.5,5.3,4.05,4.05,5.6,4.3,4.6,5.6,4.05,5,4.8,5.3,5.4,5.1,5,5.2,5.2,4.9,4.9,4.1,5.5,4.8,5.4,4.9,5.3,5.2,5.5,4.05,4.8,5.6,5.2,5,4.05,4.1,4.4,4.1,4.1,4.8,4.1,4.4,4.3];

const bottomLogM1o = [5.6,5.65,5.72,5.78,5.82,5.88,5.92,5.95,6.02,6.06,6.1,6.15,6.18,6.1,6.04,5.95,6.14,6.2,6.08,6.1,6,5.95,5.85,5.75,5.65,5.55,5.5,5.42,5.35,5.28,5.15,5.2,5.05,4.95,4.85,5.3,5.45,5.7,5.9,6.1,6.15];
const bottomLogT1o = [6.05,5.96,5.98,5.95,5.92,5.97,6,5.87,5.88,5.98,5.93,5.87,5.8,5.75,5.7,5.72,5.66,5.7,6.1,6.14,6.12,6.1,6.1,6.12,6.14,6.12,6.2,6.22,6.2,6.3,6.38,6.42,6.44,6.5,6.52,6.36,6.28,6.22,6.2,6.2,6.15];
const bottomLogM2o = [5,5.3,5.2,5,5.3,4.9,4.7,5.4,5.5,5.2,5.3,5.5,5.6,5.6,5.7,5.6,5.7,5.6,4.5,4.1,4.5,4.5,4.8,4.7,4.7,5,4.6,4.7,4.9,4.7,4.6,4.6,4.8,4.7,4.7,4.8,4.6,4.4,4.3,4.1,4.1];

const bottomLogM1e = [6.56,6.66,6.72,6.8,6.88,6.96,6.85,6.47,6.66,6.72,6.4,7.01,7.09,7.2,7.13,7.38,7.32,7.4,7.29,7.42,7.33,7.32,7.42,7.54,7.72,7.76,7.63,7.71,7.77,7.82,7.91,7.97,8.35,8.47,8.07,7.93,7.94,8.18,8.29,8.38,8.49,8.55,8.65,8.72,8.79,8.85,8.97,9.01,8.96,8.92,8.38];
const bottomLogT1e = [5.98,5.97,5.94,5.89,5.85,5.82,6.02,5.96,5.84,5.83,5.92,5.81,5.79,5.74,5.73,5.87,5.74,5.72,5.65,5.63,5.62,5.58,5.57,5.55,5.58,5.57,5.52,5.52,5.53,5.51,5.45,5.43,5.38,5.35,5.37,5.37,5.3,5.3,5.27,5.25,5.21,5.19,5.18,5.13,5.07,5.05,4.96,4.9,4.92,4.92,5.89];
const bottomLogM2e = [4.05,4.05,4.05,4.05,4.05,4.05,4.1,4.1,4.05,4.05,4.3,4.05,4.05,4.05,4.1,4.05,4.8,4.3,4.1,4.1,4.1,4.05,4.3,4.05,4.9,4.1,4.1,4.05,4.05,4.1,4.1,4.05,4.05,4.05,4.05,4.3,4.1,4.1,4.1,4.05,4.05,4.05,4.05,4.1,4.05,4.05,4.05,4.3,4.05,4.1,4.9];

const bottomLogM1f = [6.22,6.27,6.25,6.28,6.22,6.27,6.25,6.3,6.37,6.33,6.37,6.34,6.38,6.35,6.32,6.38,6.35,6.45,6.47,6.43,6.47,6.44,6.48,6.43,6.47,6.44,6.48,6.55,6.53,6.57,6.53,6.57,6.55,6.58,6.53,6.58,6.55,6.5,6.65,6.63,6.67,6.63,6.67,6.63,6.68,6.63,6.67,6.62,6.68];
const bottomLogT1f = [6.02,5.96,5.9,5.85,5.78,5.72,5.65,5.6,5.97,5.9,5.86,5.8,5.75,5.68,5.62,5.58,5.5,5.93,5.88,5.83,5.78,5.72,5.67,5.6,5.55,5.47,5.42,5.9,5.85,5.8,5.75,5.68,5.63,5.57,5.5,5.45,5.38,5.33,5.88,5.82,5.77,5.72,5.67,5.6,5.55,5.47,5.42,5.35,5.3];
const bottomLogM2f = [4.1,4.6,5.1,5.3,5.4,5.7,5.5,5.9,4.4,4.8,5,5.2,5.4,5.7,6,6.1,6.1,4.2,4.6,5,5.2,5.5,5.6,6,6.2,6.4,6.1,4.1,4.6,5,5,5.3,5.5,5.8,6.2,6.2,6.5,6.5,4.1,4.3,4.8,5.1,5.2,5.5,5.7,6,6.4,6.6,6.7];

const bottomLogM1p = [6.33,6.28,6.31,6.27,6.32,6.29,6.33,6.28,6.42,6.38,6.41,6.37,6.43,6.39,6.42,6.37,6.41,6.53,6.48,6.51,6.47,6.52,6.49,6.53,6.48,6.51,6.47,6.52,6.63,6.58,6.61,6.57,6.62,6.59,6.63,6.58,6.61,6.57,6.62,6.59,6.73,6.68,6.71,6.67,6.72,6.69,6.73,6.68,6.71,6.67,6.72,6.69,6.73,6.68];
const bottomLogT1p = [6.03,5.93,5.87,5.82,5.77,5.7,5.63,5.55,5.94,5.88,5.83,5.78,5.72,5.65,5.6,5.52,5.45,5.95,5.9,5.85,5.8,5.74,5.69,5.62,5.57,5.5,5.43,5.36,5.92,5.87,5.83,5.77,5.71,5.66,5.6,5.53,5.46,5.4,5.33,5.26,5.9,5.85,5.8,5.74,5.69,5.63,5.57,5.5,5.44,5.37,5.3,5.23,5.17,5.1];
const bottomLogM2p = [4.2,4.8,5.2,5.1,5.4,5.6,5.6,5.9,4.5,4.9,5.1,5.3,5.5,5.7,5.9,6.1,6,4.1,4.4,4.8,5,5.3,5.4,5.7,6,6.3,6.4,6.3,4.05,4.4,4.7,5,5.2,5.4,5.7,6,6.4,6.5,6.6,6.3,4.05,4.3,4.5,4.9,5.2,5.4,5.6,6.1,6.5,6.7,6.7,6.4,6.3,6.2];

const bottomLogM1g = [6.75,6.77,6.73,6.77,6.73,6.77,6.73,6.77,6.73,6.77,6.74,6.77,6.73,6.85,6.83,6.87,6.83,6.87,6.83,6.87,6.83,6.87,6.83,6.87,6.83,6.87,6.95,6.93,6.97,6.93,6.97,6.93,6.97,6.93,6.97,6.93,6.97,6.93,6.97,7.05,7.03,7.07,7.03,7.07,7.03,7.07,7.03,7.07,7.03,7.07,7.03];
const bottomLogT1g = [5.88,5.82,5.77,5.72,5.65,5.6,5.54,5.47,5.4,5.33,5.27,5.18,5.13,5.85,5.8,5.75,5.7,5.64,5.58,5.52,5.45,5.4,5.32,5.27,5.2,5.15,5.8,5.75,5.7,5.65,5.58,5.52,5.47,5.4,5.35,5.28,5.2,5.14,5.08,5.75,5.7,5.64,5.58,5.52,5.46,5.4,5.33,5.27,5.2,5.13,5.05];
const bottomLogM2g = [4.05,4.2,4.6,4.9,5.2,5.4,5.6,6.1,6.6,6.7,6.5,6.4,6.2,4.05,4.3,4.5,4.8,5,5.4,5.6,6.2,6.5,6.8,6.4,6.2,6.4,4.05,4.3,4.6,4.9,5.1,5.5,5.7,6.4,6.6,6.2,6.6,6.8,7,4.05,4.4,4.7,5,5.4,5.7,6,6.6,6.9,6.8,7.1,6.9];

const bottomLogM1q = [6.83,6.78,6.81,6.77,6.82,6.79,6.83,6.78,6.81,6.77,6.82,6.79,6.83,6.93,6.88,6.91,6.87,6.92,6.89,6.93,6.88,6.91,6.87,6.92,6.89,6.93,7.03,6.98,7.01,6.97,7.02,6.99,7.03,6.98,7.01,6.97,7.02,6.99,7.03,7.13,7.08,7.11,7.07,7.12,7.09,7.13,7.08,7.11,7.07,7.12,7.09];
const bottomLogT1q = [5.87,5.83,5.78,5.72,5.67,5.62,5.55,5.49,5.42,5.36,5.29,5.22,5.15,5.83,5.78,5.73,5.68,5.62,5.56,5.5,5.43,5.37,5.3,5.24,5.17,5.1,5.78,5.73,5.68,5.62,5.56,5.5,5.44,5.37,5.31,5.24,5.17,5.1,5.02,5.73,5.68,5.62,5.57,5.51,5.44,5.38,5.31,5.24,5.16,5.08,5];
const bottomLogM2q = [4.05,4.2,4.5,4.8,5,5.3,5.5,5.9,6.4,6.7,6.7,6.5,6.5,4.05,4.2,4.5,4.8,5.1,5.4,5.7,6.3,6.6,6.8,6.4,6.5,6.6,4.05,4.3,4.6,4.9,5.2,5.5,5.7,6.2,6.7,6.9,6.8,7,6.9,4.2,4.4,4.7,5,5.3,5.6,5.9,6.3,6.8,6.9,7,6.8];

const bottomLogM1h = [7.15,7.13,7.17,7.13,7.17,7.13,7.17,7.13,7.17,7.13,7.25,7.23,7.27,7.23,7.27,7.23,7.27,7.23,7.27,7.23,7.27,7.35,7.33,7.37,7.33,7.37,7.33,7.37,7.33,7.37,7.45,7.43,7.47,7.43,7.47,7.43,7.47,7.43,7.47,7.43,7.55,7.53,7.57,7.53,7.57,7.53,7.57,7.53,7.57,7.65,7.63,7.67,7.63,7.67,7.63,7.67,7.63];
const bottomLogT1h = [5.72,5.66,5.6,5.54,5.48,5.42,5.35,5.28,5.2,5.12,5.68,5.62,5.56,5.5,5.44,5.37,5.3,5.23,5.15,5.05,4.98,5.62,5.55,5.5,5.44,5.38,5.3,5.23,5.15,5.05,5.6,5.53,5.47,5.41,5.33,5.26,5.18,5.1,5.02,4.95,5.52,5.46,5.4,5.33,5.26,5.2,5.12,5.04,4.97,5.5,5.42,5.36,5.3,5.23,5.16,5.08,5];
const bottomLogM2h = [4.1,4.5,4.8,5.1,5.4,5.7,6.1,6.5,6.8,7,4.2,4.4,4.7,5,5.3,5.7,6,6.3,6.9,6.8,6.7,4.3,4.6,5,5.2,5.5,5.9,6.2,6.6,6.9,4.1,4.5,4.9,5.2,5.5,5.8,6.2,6.4,6.4,6.7,4.1,4.5,4.8,5.2,5.5,5.8,6.2,6.5,6.6,4.2,4.5,4.7,5,5.4,5.7,6.1,6.3];

const bottomLogM1r = [7.22,7.17,7.21,7.18,7.23,7.19,7.22,7.17,7.21,7.18,7.23,7.19,7.32,7.28,7.31,7.27,7.33,7.29,7.32,7.28,7.31,7.27,7.33,7.42,7.38,7.41,7.37,7.43,7.39,7.42,7.38,7.41,7.37,7.43,7.52,7.48,7.51,7.47,7.53,7.49,7.52,7.48,7.51,7.47,7.53,7.62,7.58,7.61,7.57,7.63,7.59,7.62,7.58,7.61,7.57,7.63,7.59];
const bottomLogT1r = [5.7,5.65,5.59,5.53,5.47,5.4,5.33,5.26,5.18,5.09,5,4.93,5.65,5.6,5.53,5.47,5.41,5.34,5.27,5.19,5.1,5.02,4.93,5.6,5.53,5.47,5.42,5.35,5.28,5.2,5.12,5.04,4.96,4.9,5.55,5.48,5.42,5.36,5.29,5.22,5.15,5.07,4.99,4.92,4.86,5.5,5.44,5.38,5.31,5.24,5.17,5.1,5.02,4.95,4.88,4.82,4.75];
const bottomLogM2r = [4.1,4.4,4.6,5,5.3,5.6,5.9,6.4,6.8,7,6.9,7,4.2,4.5,4.8,5.1,5.4,5.7,6.1,6.5,6.8,6.9,7,4.2,4.5,4.8,5.1,5.4,5.7,6.1,6.5,6.8,7,7.2,4.1,4.5,4.9,5.2,5.5,5.8,6.2,6.5,6.8,7.2,7.5,4.1,4.4,4.7,5.1,5.5,5.7,6.1,6.4,6.7,7.4,7.6,7.7];

const bottomLogM1i = [7.75,7.73,7.77,7.73,7.77,7.73,7.77,7.73,7.77,7.73,7.85,7.83,7.87,7.83,7.87,7.83,7.87,7.83,7.87,7.95,7.93,7.97,7.93,7.97,7.93,7.97,7.93,7.97,8.05,8.03,8.07,8.03,8.07,8.03,8.07,8.03,8.07,8.03,8.15,8.13,8.17,8.13,8.17,8.13,8.17,8.13,8.17,8.25,8.23,8.27,8.23,8.27,8.23,8.27,8.23,8.27];
const bottomLogT1i = [5.5,5.42,5.35,5.28,5.22,5.15,5.07,5,4.93,4.87,5.45,5.38,5.3,5.25,5.18,5.1,5.03,4.95,4.88,5.4,5.32,5.26,5.2,5.13,5.06,5,4.92,4.85,5.35,5.3,5.24,5.17,5.1,5.03,4.95,4.88,4.8,4.72,5.31,5.24,5.18,5.12,5.05,4.96,4.9,4.83,4.74,5.26,5.2,5.15,5.08,5,4.93,4.87,4.8,4.7];
const bottomLogM2i = [4.1,4.5,4.7,5,5.3,5.5,6,6.3,6.2,7.5,4.2,4.5,4.8,5.1,5.4,5.5,5.6,6.3,7.2,4.4,4.5,4.7,4.9,5.3,5.5,5.9,6.5,7,4.2,4.4,4.6,5,5.2,5.5,5.9,6.6,6.9,7.2,4.2,4.5,4.9,5.2,5.4,5.7,6.1,6.5,6.8,4.1,4.4,4.7,5,5.3,5.6,6,6.4,6.7];

const bottomLogM1s = [7.72,7.68,7.71,7.67,7.73,7.69,7.72,7.68,7.71,7.67,7.73,7.69,7.82,7.78,7.81,7.77,7.83,7.79,7.82,7.78,7.81,7.77,7.83,7.79,7.82,7.92,7.88,7.91,7.87,7.93,7.89,7.92,7.88,7.91,7.87,7.93,7.89,7.92,8.02,7.98,8.01,7.97,8.03,7.99,8.02,7.98,8.01,7.97,8.03,7.99,8.02];
const bottomLogT1s = [5.47,5.4,5.34,5.27,5.2,5.13,5.05,4.97,4.9,4.82,4.75,4.7,5.44,5.37,5.3,5.24,5.17,5.1,5.02,4.94,4.87,4.8,4.72,4.65,4.58,5.4,5.33,5.27,5.2,5.14,5.07,4.99,4.92,4.85,4.78,4.7,4.62,4.55,5.37,5.3,5.24,5.17,5.1,5.03,4.96,4.88,4.8,4.72,4.65,4.58,4.5];
const bottomLogM2s = [4.1,4.4,4.7,5,5.4,5.7,6.1,6.5,7.4,7.6,7.7,7.5,4.2,4.4,4.7,5,5.3,5.6,6,6.6,7.5,7.6,7.6,7.5,7.8,4.1,4.4,4.7,5,5.3,5.5,6,6.7,7.5,7.6,7.7,7.8,8,4.2,4.5,4.7,5,5.3,5.6,6.1,6.8,7.4,7.6,7.7,7.9,8.1];

const bottomLogM1j = [8.35,8.33,8.37,8.33,8.37,8.33,8.37,8.33,8.45,8.43,8.47,8.43,8.47,8.43,8.47,8.43,8.47,8.55,8.53,8.57,8.53,8.57,8.53,8.57,8.53,8.57,8.65,8.63,8.67,8.63,8.67,8.63,8.67,8.63,8.67,8.75,8.73,8.77,8.73,8.77,8.73,8.77,8.73,8.77,8.85,8.83,8.87,8.83,8.87,8.83,8.87,8.83,8.95,8.93,8.98,8.93,8.97,8.93,8.98,8.94];
const bottomLogT1j = [5.22,5.16,5.1,5.03,4.97,4.9,4.78,4.68,5.2,5.15,5,4.95,4.9,4.8,4.72,4.65,4.55,5.12,5.08,5,4.92,4.86,4.77,4.7,4.65,4.5,5.1,5.05,4.95,4.9,4.8,4.75,4.68,4.62,4.48,5.05,5,4.92,4.85,4.75,4.7,4.65,4.55,4.45,5,4.93,4.88,4.78,4.72,4.62,4.53,4.43,4.88,4.8,4.72,4.68,4.55,4.52,4.42,4.35];
const bottomLogM2j = [4.2,4.4,4.7,5,5.3,5.7,6.2,6.6,4.1,4.3,4.7,5.2,5.5,5.9,6.2,6.4,6.8,4.2,4.4,4.6,5.1,5.4,5.8,6.1,6.3,7,4.3,4.5,4.7,4.9,5.5,6,6.3,6.5,7.4,4.3,4.4,4.6,5.1,5.5,5.9,6.3,6.7,7.2,4.3,4.5,4.6,5,5.4,6,6.7,7.2,4.3,4.6,5,5.6,5.9,6.4,6.7,7];

const bottomLogM1t = [8.12,8.08,8.11,8.07,8.13,8.09,8.12,8.08,8.11,8.07,8.13,8.09,8.22,8.18,8.21,8.17,8.23,8.19,8.22,8.18,8.21,8.17,8.23,8.19,8.22,8.32,8.28,8.31,8.27,8.33,8.29,8.32,8.28,8.31,8.27,8.33,8.29,8.42,8.38,8.41,8.37,8.43,8.39,8.42,8.38,8.41,8.37,8.43,8.39];
const bottomLogT1t = [5.32,5.26,5.2,5.14,5.07,5,4.92,4.85,4.77,4.7,4.62,4.55,5.28,5.22,5.16,5.1,5.03,4.96,4.89,4.82,4.74,4.66,4.6,4.52,4.47,5.24,5.18,5.12,5.06,5,4.93,4.85,4.78,4.7,4.62,4.55,4.48,5.2,5.14,5.07,5.01,4.95,4.87,4.8,4.73,4.65,4.58,4.5,4.44];
const bottomLogM2t = [4.2,4.5,4.7,5,5.3,5.6,6.1,6.7,7.2,7.5,7.7,8.2,4.2,4.5,4.8,5,5.3,5.6,6,6.5,6.9,7.6,8.1,8.3,8,4.2,4.4,4.7,5,5.3,5.5,5.9,6.4,6.9,7.4,8,8.2,4.2,4.4,4.7,5,5.3,5.6,6,6.4,6.9,7.7,8.1,8.4];

const bottomLogM1u = [8.52,8.48,8.51,8.47,8.53,8.49,8.52,8.48,8.51,8.47,8.53,8.62,8.58,8.61,8.57,8.63,8.59,8.62,8.58,8.61,8.57,8.63,8.72,8.68,8.71,8.67,8.73,8.69,8.72,8.68,8.71,8.67,8.73,8.82,8.78,8.81,8.77,8.83,8.79,8.82,8.78,8.81,8.77,8.83,8.92,8.88,8.91,8.87,8.93,8.89,8.92,8.88,8.91,8.87,8.93,8.99,8.97,8.99,8.98,9,8.98,8.99,8.97,8.99,8.98,8.99,8.98,8.99];
const bottomLogT1u = [5.16,5.1,5.03,4.97,4.9,4.83,4.75,4.68,4.6,4.53,4.47,5.12,5.06,5,4.93,4.87,4.8,4.73,4.66,4.58,4.51,4.45,5.08,5.03,4.97,4.9,4.83,4.77,4.7,4.62,4.55,4.48,4.42,5.02,4.97,4.9,4.84,4.77,4.7,4.63,4.55,4.48,4.41,4.35,4.96,4.9,4.84,4.77,4.7,4.64,4.57,4.5,4.43,4.36,4.3,4.88,4.8,4.74,4.68,4.62,4.55,4.48,4.4,4.33,4.27,4.2,4.12,4.06];
const bottomLogM2u = [4.2,4.4,4.7,5,5.3,5.6,6,6.4,7,7.6,8,4.2,4.4,4.7,5,5.3,5.6,6,6.4,6.9,7.3,8,4.2,4.4,4.7,5,5.3,5.7,6,6.5,6.9,7.3,8.2,4.2,4.4,4.7,5,5.4,5.8,6.2,6.6,7.2,8,8.4,4.2,4.4,4.7,5.1,5.5,5.9,6.3,6.8,7.3,8,8.3,4.3,4.5,4.8,5.2,5.7,6.2,6.6,7,7.6,8,8.4,8.7,8.5];

const bottomLogM1d = [5.54,5.61,5.67,5.52,5.45,5.38,5.28,5.2,4.99,4.77,5.03,4.71,4.6,5.49,4.94,5.69,6.06,5.91,6.1,6.33,6.49,6.75,6.91,6.98,6.6,6.6,6.95,6.37,6.34,6.82,7,7,6.96,5.72,5.76,5.84,5.89,5.98,5.92,5.98,5.82,5.88,5.91,6.03,6.05,6.02,6.16,6.23,6.16,6.18,6.24,6.32,6.3,6.27,6.36,6.54,6.54,6.44,6.41,6.38,6.32,6.5,6.55,6.6,6.59,6.64,6.68,6.75,6.64,6.71,6.63,6.79,6.87,6.74,6.78,6.83,6.88,6.98,6.86,6.94,6.98];
const bottomLogT1d = [5.77,5.76,5.8,5.73,5.69,5.66,5.64,5.58,5.58,5.56,5.68,5.69,5.45,5.43,5.3,5.25,5.11,4.95,4.83,4.96,5.04,4.87,4.95,4.84,4.8,4.69,4.75,4.5,4.38,4.53,4.56,4.53,4.43,5.62,5.6,5.62,5.66,5.62,5.58,5.6,5.49,5.51,5.5,5.51,5.38,5.33,5.57,5.62,5.44,5.49,5.52,5.52,5.46,5.41,5.37,5.4,5.3,5.34,5.26,5.22,5.2,5.26,5.2,5.22,5.08,5.05,5.11,5.24,5.29,5.31,5.35,5.35,5.38,5.45,5.11,5.18,5.25,5.24,5.09,5.08,5];
const bottomLogM2d = [5.7,5.5,5.7,4.05,5.2,4.6,5.3,5.1,5,4.4,4.5,4.05,4.3,4.4,4.5,5.4,4.05,4.5,5.6,5.1,4.5,5.3,5.5,5.2,6.6,6,4.5,4.6,5.2,5.9,6,7,6.5,5.4,5,4.05,5.6,4.05,5.2,5.2,4.4,4.05,4.5,5.8,5.7,5.7,5.7,4.2,4.4,5.7,5.3,5.4,5.9,4.3,5.9,4.2,4.05,6,6,4.6,6,5.1,6.3,6.2,6.2,6.3,5.9,5.4,5.7,6.3,5.1,6.6,5,4.1,6.5,5,6.2,5.5,5.9,4.7,7];

const bottomLogM1k = [7.14,7.29,7.35,7.17,7.2,7.34,7.45,7.52,7.2,7.34,7.13,7.29,7.38,7.25,7.53,7.69,7.85,7.85,7.7,7.02,7.39,7.63,7.69,7.54,7.46,7.39,7.55,7.51,7.77,7.82,7.87,7.63,7.65,7.66,7.66,7.62,7.7,7.78,7.85,7.71,7.78,7.89,7.94,8.01,7.82,7.97,7.94,8.02,8.03,8.13,8.26,8.16,8.2,8.26,8.38,8.3,8.09];
const bottomLogT1k = [4.93,4.83,4.81,4.78,4.75,4.74,4.71,4.72,4.67,4.65,4.63,4.58,4.57,4.53,4.47,4.47,4.46,4.42,4.38,4.53,4.98,4.94,4.88,4.87,4.85,4.89,4.91,4.83,4.84,4.75,4.78,4.75,4.71,4.64,4.6,4.6,4.67,4.65,4.63,4.51,4.57,4.54,4.53,4.54,4.5,4.59,4.72,4.63,4.77,4.67,4.64,4.57,4.51,4.55,4.57,4.63,4.59];
const bottomLogM2k = [6.9,7,6.6,7,7.2,7,7,7.7,5.2,7.7,6.8,6.8,6.5,4.6,7,6.5,5.1,8,6,6.7,4.3,5.6,7.7,5.4,7.5,6.5,7.4,6.3,7.7,5.2,4.5,7.5,7.8,5.9,4.1,7.8,7.2,5.7,7.7,8,8,8,7.3,8.3,7.2,7.6,7.4,5.6,7.2,8,8.3,5.7,4.7,8,7.7,7.9,8];

const bottomLogM1l = [8.13,8.21,8.17,8.33,8.41,8.46,8.53,8.6,8.61,8.74,8.79,8.89,8.97,8.92,8.81,8.75,9,9,8.89,8.99,8.92,8.79,8.83,8.92,8.97,8.99,8.94,8.79,8.57,8.62,8.71,8.89,8.36,8.44,8.4,8.18,8.31,8.38,8.17,8.25,8.3,8.46,8.54,8.65,8.75,8.84,8.1,8.36,7.99,8.13,7.93,7.62,7.56,7.51,7.64,7.69,7.8];
const bottomLogT1l = [4.78,4.76,4.86,4.72,4.66,4.59,4.6,4.55,4.49,4.6,4.62,4.58,4.58,4.51,4.5,4.51,4.54,4.46,4.46,4.62,4.66,4.75,4.7,4.71,4.76,4.8,4.84,4.8,4.82,4.87,4.89,4.87,4.82,4.85,4.86,4.75,4.8,4.95,4.96,5.02,5.04,5.07,5.05,5,4.98,4.97,5.13,5.05,4.98,4.99,4.98,5.12,5.35,5.42,5.46,5.35,5.28];
const bottomLogM2l = [7.1,6.8,6.4,6.9,6.8,6.5,7,6.8,7.3,6.2,6.3,6.5,4.05,7,4.05,7.5,6.3,5.5,7.3,6,5.2,4.6,5.7,5.4,4.5,4.9,4.7,4.8,5.5,5.2,4.8,4.5,5.9,7.4,4.2,4.4,6.5,4.05,5,4.3,5,5,4.6,4.9,4.5,4.7,4.05,4.7,4.4,7,5.2,4.05,4.05,4.4,4.6,4.7,6.3];

const bottomLogM1n = [8.1,8.2,8.3,8.4,8.35,8.5,8.55,8.6,8.65,8.75,8.8,8.9,8.95,8.88,8.78,8.7,8.6,8.5,8.4,8.32,8.25,8.15,8.05,8.35,8.45,8.62,8.7,8.85,8.92,8.98,8.9,8.55,8.78,8.22,8.27,8.38,8.43];
const bottomLogT1n = [4.45,4.42,4.4,4.42,4.35,4.42,4.35,4.32,4.38,4.42,4.35,4.4,4.3,4.25,4.22,4.25,4.22,4.25,4.22,4.25,4.32,4.32,4.38,4.15,4.15,4.08,4.05,4.1,4.15,4.05,4.03,4.03,4.13,4.45,4.44,4.38,4.45];
const bottomLogM2n = [7.6,8,8.2,8.4,8.6,8,8.1,8.4,8.1,7.8,8.2,7.6,7.9,8.3,8.2,8.5,8.7,8.2,8.3,8,8.1,7.8,7.9,8,8.2,8.5,8.8,8.4,8.7,8.3,8.6,8.2,8.9,8.4,8.5,8.7,8];

const bottomLogM1v = [8.05,8.12,8.18,8.28,8.33,8.42,8.48,8.52,8.58,8.64,8.68,8.72,8.76,8.82,8.86,8.9,8.94,8.98,8.96,8.88,8.8,8.72,8.6,8.48,8.4,8.3,8.25,8.15,8.38,8.56,8.46,7.95,8,8.08,8.18,8.35,8.6,8.7,8.85,8.95];
const bottomLogT1v = [4.28,4.25,4.2,4.16,4.32,4.33,4.38,4.3,4.27,4.17,4.12,4.2,4.29,4.22,4.16,4.3,4.2,4.25,4.12,4.1,4.05,4,3.99,4,4.07,4.03,4.1,4.1,4.22,4.18,4.25,4.45,4.42,4.5,4.45,4.45,4.4,4.35,4.32,4.38];
const bottomLogM2v = [8,7.9,8.2,7.7,8.2,8.3,8.4,8.6,8.3,8.5,8.1,8.3,8,8.4,8.9,8,8.2,8.3,8.5,8.9,8.6,8.1,8,8.2,8.1,7.9,8,8.3,8.5,8.9,8.7,8.1,8.2,8,7.9,8.1,8.2,8.2,8.3,8.1];

const bottomLogM1m = [7.17,8.28,8.82,8.01,8.6,8.73,8.99,8.79,8.91,8.83,8.87,8,7.85,7.54,8.26,8.45,8.42,8.52,8.62,8.68,8.76,8.81,8.9,8.95,8.97,8.93,8.86,8.96,8.95,8.99,8.23,8.97,8.6,8.68,8.44,8.51,7.93,7.72,7.85,7.33,7.46,7.58,7.54,7.96,7.84,7.97,7.7,7.38,7.24,7.52,7.03,8.17,8.19,8.23,8.23,8.33,8.41,8.3,8.13,8.09,8.47,8.5,8.6,8.62,8.55,8.7,8.73,8.77,8.81,8.85,8.93,8.97,9.01,8.95,8.86,8.83,8.75,8.68,8.53,8.98,8.63,8.55,8.73,8.82,8.37];
const bottomLogT1m = [3.21,3.07,2.84,3.44,3.41,3.41,3.4,3.33,3.59,3.52,3.54,3.75,3.9,3.98,3.85,3.87,3.9,3.93,3.92,3.95,3.93,3.89,3.86,3.94,3.96,3.98,3.77,3.74,3.69,3.71,3.99,4.03,4.03,4.03,4.03,4.05,4.07,4.12,4.12,4.11,4.2,4.22,4.26,4.21,4.22,4.32,4.37,4.34,4.34,4.34,4.3,4.24,4.13,4.17,4.1,4.09,4.3,4.28,4.32,4.35,4.1,4.17,4.17,4.14,4.15,4.17,4.11,4.09,4.17,4.17,4.09,4.16,4.11,4.25,4.29,4.25,4.33,4.33,4.32,4.34,4.27,4.24,4.39,4.38,4.38];
const bottomLogM2m = [5.6,5.9,5.4,7.8,7.4,5.5,7.8,8.3,9,6.5,6.8,8,5.5,6,8.5,4.1,7.9,5.1,8.5,8,6.7,7.9,8.8,4.4,9,9,8.5,8,8,8.5,8.3,5.3,7.5,7.9,7.9,8.7,8,5.7,4.5,7,5,7.6,7,4.4,6.5,8,5.8,4.1,5.1,6.6,6.2,8.1,6.6,8,7.9,6.9,8.4,6.6,5.7,6.6,8.4,5,5.5,4.7,8.7,9,7.5,5,9,8.8,8,8.3,7.7,8,8.2,5.2,4.3,8.6,8,5.3,8,6.5,6,6.2,8.6];

/* ---------- colour palette and panel groupings ---------- */
const paletteTs = [0,0.11,0.23,0.33,0.42,0.5,0.58,0.667,0.72,0.8,0.87,0.93,1];
const paletteColours = [[0,0,255],[0,64,255],[0,144,245],[0,216,224],[48,245,207],[126,255,174],[181,249,154],[250,228,138],[255,216,124],[255,168,94],[255,122,66],[255,74,42],[255,0,0]];

const topSeries = [
  [topLogMu1,topLogT1,topLogQ1],[topLogMu2,topLogT2,topLogQ2],[topLogMu3,topLogT3,topLogQ3],[topLogMu3b,topLogT3b,topLogQ3b],[topLogMu4,topLogT4,topLogQ4],[topLogMu5,topLogT5,topLogQ5],[topLogMu5b,topLogT5b,topLogQ5b],
  [topLogMu16,topLogT16,topLogQ16],[topLogMu17,topLogT17,topLogQ17],[topLogMu18,topLogT18,topLogQ18],[topLogMu19,topLogT19,topLogQ19],
  [topLogMu6,topLogT6,topLogQ6],[topLogMu7,topLogT7,topLogQ7],[topLogMu8,topLogT8,topLogQ8],[topLogMu9,topLogT9,topLogQ9],[topLogMu10,topLogT10,topLogQ10],
  [topLogMu11,topLogT11,topLogQ11],[topLogMu12,topLogT12,topLogQ12],[topLogMu13,topLogT13,topLogQ13],[topLogMu14,topLogT14,topLogQ14],[topLogMu15,topLogT15,topLogQ15]
];
const bottomSeries = [
  [bottomLogM1a,bottomLogT1a,bottomLogM2a],[bottomLogM1b,bottomLogT1b,bottomLogM2b],[bottomLogM1c,bottomLogT1c,bottomLogM2c],[bottomLogM1o,bottomLogT1o,bottomLogM2o],[bottomLogM1e,bottomLogT1e,bottomLogM2e],
  [bottomLogM1f,bottomLogT1f,bottomLogM2f],[bottomLogM1p,bottomLogT1p,bottomLogM2p],[bottomLogM1g,bottomLogT1g,bottomLogM2g],[bottomLogM1q,bottomLogT1q,bottomLogM2q],[bottomLogM1h,bottomLogT1h,bottomLogM2h],[bottomLogM1r,bottomLogT1r,bottomLogM2r],[bottomLogM1i,bottomLogT1i,bottomLogM2i],[bottomLogM1s,bottomLogT1s,bottomLogM2s],[bottomLogM1j,bottomLogT1j,bottomLogM2j],[bottomLogM1t,bottomLogT1t,bottomLogM2t],[bottomLogM1u,bottomLogT1u,bottomLogM2u],
  [bottomLogM1d,bottomLogT1d,bottomLogM2d],[bottomLogM1k,bottomLogT1k,bottomLogM2k],[bottomLogM1l,bottomLogT1l,bottomLogM2l],[bottomLogM1n,bottomLogT1n,bottomLogM2n],[bottomLogM1v,bottomLogT1v,bottomLogM2v],[bottomLogM1m,bottomLogT1m,bottomLogM2m]
];

/* ---------- drawing ---------- */
const NS = 'http://www.w3.org/2000/svg';
const MINOR_MULTIPLES = [2,3,4,5,6,7,8,9];
const DOT_RADIUS = 6.8;

function make(tag, parent) {
  const el = document.createElementNS(NS, tag);
  parent.appendChild(el);
  return el;
}
function paletteColour(t) {
  const v = Math.max(0, Math.min(1, t));
  let i = 0;
  while (i < paletteTs.length - 2 && v > paletteTs[i + 1]) i++;
  const f = (v - paletteTs[i]) / (paletteTs[i + 1] - paletteTs[i]);
  const a = paletteColours[i], b = paletteColours[i + 1];
  return 'rgb(' + [0,1,2].map(k => Math.round(a[k] + (b[k] - a[k]) * f)).join(',') + ')';
}
function drawLine(parent, x1, y1, x2, y2, colour, width) {
  const line = make('line', parent);
  line.setAttribute('x1', x1);
  line.setAttribute('y1', y1);
  line.setAttribute('x2', x2);
  line.setAttribute('y2', y2);
  line.setAttribute('stroke', colour);
  line.setAttribute('stroke-width', width);
  return line;
}
function powerLabel(parent, x, y, exponent, anchor) {
  const text = make('text', parent);
  text.setAttribute('x', x);
  text.setAttribute('y', y);
  text.setAttribute('font-size', '54');
  text.setAttribute('text-anchor', anchor);
  text.appendChild(document.createTextNode('10'));
  const sup = make('tspan', text);
  sup.setAttribute('dy', '-20');
  sup.setAttribute('font-size', '40');
  sup.textContent = String(exponent);
  return text;
}

function drawPanel(cfg) {
  const root = document.getElementById(cfg.id);
  const xScale = v => cfg.left + (v - cfg.xMin) / (cfg.xMax - cfg.xMin) * (cfg.right - cfg.left);
  const yScale = v => cfg.bottom - (v - cfg.yMin) / (cfg.yMax - cfg.yMin) * (cfg.bottom - cfg.top);
  const cScale = v => cfg.bottom - (v - cfg.cMin) / (cfg.cMax - cfg.cMin) * (cfg.bottom - cfg.top);
  const tColour = v => (v - cfg.cMin) / (cfg.cMax - cfg.cMin);

  /* scatter points */
  const dots = make('g', root);
  
  
  cfg.series.forEach(group => {
    const n = Math.min(group[0].length, group[1].length, group[2].length);
    for (let i = 0; i < n; i++) {
      const c = make('circle', dots);
      
      
      c.setAttribute('cx', xScale(group[0][i]).toFixed(1));
      c.setAttribute('cy', yScale(group[1][i]).toFixed(1));
      c.setAttribute('r', DOT_RADIUS);
      c.setAttribute('fill', paletteColour(tColour(group[2][i])));
    }
  });

  /* axes frame */
  const frame = make('rect', root);
  
  
  frame.setAttribute('x', cfg.left);
  frame.setAttribute('y', cfg.top);
  frame.setAttribute('width', cfg.right - cfg.left);
  frame.setAttribute('height', cfg.bottom - cfg.top);
  frame.setAttribute('fill', 'none');
  frame.setAttribute('stroke', '#4a4a4a');
  frame.setAttribute('stroke-width', '1.6');

  /* x ticks */
  const xAxis = make('g', root);
  
  
  for (let d = Math.floor(cfg.xMin); d <= Math.ceil(cfg.xMax); d++) {
    if (d >= cfg.xMin && d <= cfg.xMax) {
      const px = xScale(d);
      drawLine(xAxis, px, cfg.bottom, px, cfg.bottom - 24, '#4a4a4a', 1.4);
      drawLine(xAxis, px, cfg.top, px, cfg.top + 24, '#4a4a4a', 1.4);
    }
    MINOR_MULTIPLES.forEach(m => {
      const v = d + Math.log10(m);
      if (v < cfg.xMin || v > cfg.xMax) return;
      const px = xScale(v);
      drawLine(xAxis, px, cfg.bottom, px, cfg.bottom - 12, '#4a4a4a', 1.2);
      drawLine(xAxis, px, cfg.top, px, cfg.top + 12, '#4a4a4a', 1.2);
    });
  }
  cfg.xTicks.forEach(e => {
    const label = powerLabel(xAxis, xScale(e), cfg.bottom + 81, e, 'middle');
    
    
  });

  /* y ticks */
  const yAxis = make('g', root);
  
  
  for (let d = Math.floor(cfg.yMin); d <= Math.ceil(cfg.yMax); d++) {
    if (d >= cfg.yMin && d <= cfg.yMax) {
      const py = yScale(d);
      drawLine(yAxis, cfg.left, py, cfg.left + 24, py, '#4a4a4a', 1.5);
      drawLine(yAxis, cfg.right, py, cfg.right - 24, py, '#4a4a4a', 1.5);
    }
    MINOR_MULTIPLES.forEach(m => {
      const v = d + Math.log10(m);
      if (v < cfg.yMin || v > cfg.yMax) return;
      const py = yScale(v);
      drawLine(yAxis, cfg.left, py, cfg.left + 12, py, '#4a4a4a', 1.3);
      drawLine(yAxis, cfg.right, py, cfg.right - 12, py, '#4a4a4a', 1.3);
    });
  }
  cfg.yTicks.forEach(e => {
    const label = powerLabel(yAxis, 56, yScale(e) + 20, e, 'start');
    
    
  });

  /* colour bar */
  const bar = make('g', root);
  
  
  const defs = make('defs', bar);
  const grad = make('linearGradient', defs);
  grad.setAttribute('id', cfg.prefix + '-gradient');
  grad.setAttribute('x1', '0');
  grad.setAttribute('y1', '1');
  grad.setAttribute('x2', '0');
  grad.setAttribute('y2', '0');
  paletteTs.forEach((t, i) => {
    const stop = make('stop', grad);
    stop.setAttribute('offset', t);
    stop.setAttribute('stop-color', 'rgb(' + paletteColours[i].join(',') + ')');
  });
  const barRect = make('rect', bar);
  barRect.setAttribute('x', cfg.barLeft);
  barRect.setAttribute('y', cfg.top);
  barRect.setAttribute('width', cfg.barRight - cfg.barLeft);
  barRect.setAttribute('height', cfg.bottom - cfg.top);
  barRect.setAttribute('fill', 'url(#' + cfg.prefix + '-gradient)');
  barRect.setAttribute('stroke', '#222');
  barRect.setAttribute('stroke-width', '1.6');
  for (let d = cfg.cMin; d <= cfg.cMax; d++) {
    if (d > cfg.cMin && d < cfg.cMax) {
      drawLine(bar, cfg.barLeft, cScale(d), cfg.barRight, cScale(d), '#222', 1.5);
    }
    if (d === cfg.cMax) continue;
    MINOR_MULTIPLES.forEach(m => {
      const py = cScale(d + Math.log10(m));
      drawLine(bar, cfg.barLeft, py, cfg.barLeft + 12, py, '#222', 1.4);
      drawLine(bar, cfg.barRight, py, cfg.barRight - 12, py, '#222', 1.4);
    });
  }
  cfg.cTicks.forEach(e => {
    const label = powerLabel(bar, 1012, cScale(e) + 20, e, 'start');
    
    
  });
}

drawPanel({
  id: 'top-panel', prefix: 'top', left: 171, right: 926.5, top: 34, bottom: 894,
  xMin: -9, xMax: -2, yMin: Math.log10(400), yMax: 7, cMin: -3, cMax: 0,
  barLeft: 945, barRight: 982.5,
  series: topSeries, xTicks: topXTickExponents, yTicks: topYTickExponents, cTicks: topColorTickExponents
});
drawPanel({
  id: 'bottom-panel', prefix: 'bottom', left: 171, right: 926.5, top: 1214.6, bottom: 2074.6,
  xMin: 4, xMax: Math.log10(2e9), yMin: Math.log10(400), yMax: 7, cMin: 4, cMax: 9,
  barLeft: 945, barRight: 982.5,
  series: bottomSeries, xTicks: bottomXTickExponents, yTicks: bottomYTickExponents, cTicks: bottomColorTickExponents
});
</script>
</body>
</html>
